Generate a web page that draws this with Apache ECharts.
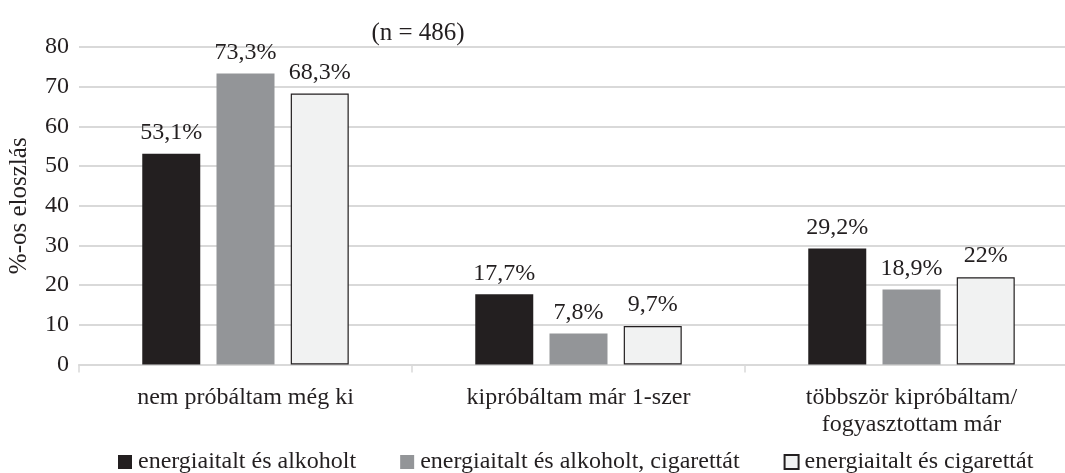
<!DOCTYPE html>
<html><head><meta charset="utf-8">
<script src="https://cdn.jsdelivr.net/npm/echarts@6/dist/echarts.min.js"></script>
<style>html,body{margin:0;padding:0;background:#fff}#c{width:1065px;height:473px}</style>
</head><body><div id="c"></div>
<script>
const categories = ['nem próbáltam még ki', 'kipróbáltam már 1-szer', 'többször kipróbáltam/\nfogyasztottam már'];
const seriesNames = ['energiaitalt és alkoholt', 'energiaitalt és alkoholt, cigarettát', 'energiaitalt és cigarettát'];
const valuesA = [53.1, 17.7, 29.2];
const valuesB = [73.3, 7.8, 18.9];
const valuesC = [68.3, 9.7, 22];
const labelsA = ['53,1%', '17,7%', '29,2%'];
const labelsB = ['73,3%', '7,8%', '18,9%'];
const labelsC = ['68,3%', '9,7%', '22%'];
const yTicks = [0, 80, 10];

const FONT = '"Liberation Serif", "DejaVu Serif", serif';
const colors = ['#231f20', '#939598', '#f1f2f2'];
const allData = [valuesA, valuesB, valuesC];
const allLabels = [labelsA, labelsB, labelsC];

const chart = echarts.init(document.getElementById('c'));
chart.setOption({
  animation: false,
  title: { text: '(n = 486)', left: 413, top: 16, textAlign: 'center',
    textStyle: { fontFamily: FONT, fontSize: 25, fontWeight: 'normal', color: '#231f20' } },
  grid: { left: 79, top: 47, width: 999, height: 317.5, containLabel: false, outerBoundsMode: 'none' },
  legend: {
    top: 445, left: 113, itemWidth: 14, itemHeight: 14, itemGap: 44,
    icon: 'rect',
    textStyle: { fontFamily: FONT, fontSize: 24, color: '#231f20', padding: [0, 0, 0, 1] },
    data: seriesNames
  },
  xAxis: {
    type: 'category', data: categories,
    axisLine: { lineStyle: { color: '#d9d9d9', width: 2 } },
    axisTick: { show: true, length: 8, lineStyle: { color: '#d9d9d9', width: 1.5 } },
    axisLabel: { fontFamily: FONT, fontSize: 24, color: '#231f20', margin: 20, lineHeight: 27 }
  },
  yAxis: {
    type: 'value', min: yTicks[0], max: yTicks[1], interval: yTicks[2],
    name: '%-os eloszlás', nameLocation: 'middle', nameGap: 47,
    nameTextStyle: { fontFamily: FONT, fontSize: 25, color: '#231f20' },
    axisLine: { show: false }, axisTick: { show: false },
    axisLabel: { fontFamily: FONT, fontSize: 24, color: '#231f20', margin: 10 },
    splitLine: { lineStyle: { color: '#d9d9d9', width: 2 } }
  },
  series: seriesNames.map((n, i) => ({
    name: n, type: 'bar', data: allData[i], barWidth: 58, barGap: '28%',
    itemStyle: { color: colors[i], borderColor: '#231f20', borderWidth: i === 2 ? 1.2 : 0 },
    label: { show: true, position: 'top', distance: 9, fontFamily: FONT, fontSize: 24, color: '#231f20',
      formatter: p => allLabels[i][p.dataIndex] }
  }))
});
</script></body></html>
